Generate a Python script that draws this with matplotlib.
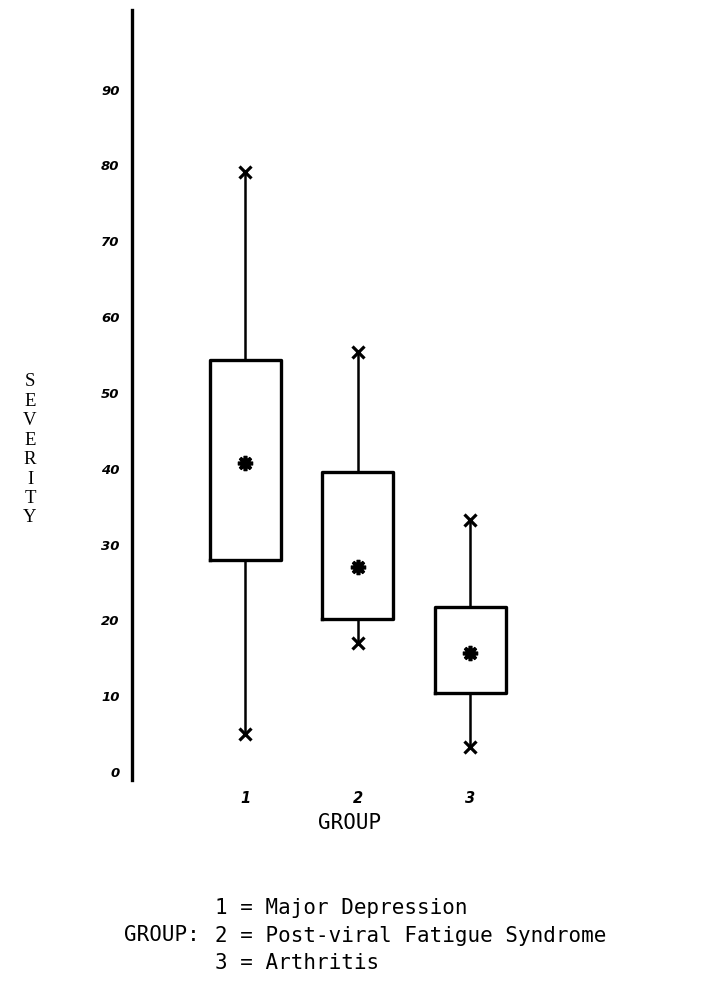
import matplotlib
matplotlib.use("Agg")
import matplotlib.pyplot as plt

# severity summaries per group
groups = [1, 2, 3]
group_names = ["Major Depression", "Post-viral Fatigue Syndrome", "Arthritis"]
lows = [5, 17, 3.3]
q1s = [28, 20.2, 10.4]
medians = [40.8, 27, 15.7]
q3s = [54.4, 39.6, 21.8]
highs = [79.2, 55.4, 33.2]
yticks = [0, 10, 20, 30, 40, 50, 60, 70, 80, 90]

W, H = 723, 1008
fig = plt.figure(figsize=(W / 100, H / 100), dpi=100)
ax = fig.add_axes([132 / W, 1 - 780 / H, 428 / W, 770 / H])

stats = []
for g, lo, a, m, b, hi in zip(groups, lows, q1s, medians, q3s, highs):
    stats.append(dict(label=str(g), whislo=lo, q1=a, med=m, q3=b, whishi=hi, fliers=[]))

ax.bxp(stats, positions=groups, widths=0.63, showcaps=False, showfliers=False,
       boxprops=dict(color="black", linewidth=2.4),
       whiskerprops=dict(color="black", linewidth=1.8),
       medianprops=dict(linewidth=0))

# whisker ends and medians
ax.plot(groups, lows, linestyle="none", marker="x", color="black", markersize=9, markeredgewidth=2.3)
ax.plot(groups, highs, linestyle="none", marker="x", color="black", markersize=9, markeredgewidth=2.3)
ax.plot(groups, medians, linestyle="none", marker=(8, 2, 0), color="black", markersize=11, markeredgewidth=2.6)

ax.set_xlim(-0.01, 3.8)
ax.set_ylim(-1.05, 100.5)
for side in ["top", "right", "bottom"]:
    ax.spines[side].set_visible(False)
ax.spines["left"].set_linewidth(2.4)

ax.set_yticks(yticks)
ax.set_yticklabels([str(v) for v in yticks], fontsize=9.5, fontweight="bold", fontstyle="italic")
ax.set_xticks(groups)
ax.set_xticklabels([str(g) for g in groups], fontsize=10.5, fontweight="bold", fontstyle="italic")
ax.tick_params(axis="y", length=0, pad=9)
ax.tick_params(axis="x", length=0, pad=8)

# vertical stacked y label
for i, ch in enumerate("SEVERITY"):
    fig.text(30 / W, 1 - (382 + i * 19.4) / H, ch, ha="center", va="center",
             family="Liberation Serif", fontsize=13.5)

mono = "DejaVu Sans Mono"
fig.text(350 / W, 1 - 823 / H, "GROUP", ha="center", va="center", family=mono, fontsize=15)
fig.text(200 / W, 1 - 935 / H, "GROUP:", ha="right", va="center", family=mono, fontsize=15)
for i, (g, name) in enumerate(zip(groups, group_names)):
    fig.text(215 / W, 1 - (908 + i * 27.5) / H, f"{g} = {name}", ha="left", va="center",
             family=mono, fontsize=15)

fig.savefig("out.png", dpi=100)
